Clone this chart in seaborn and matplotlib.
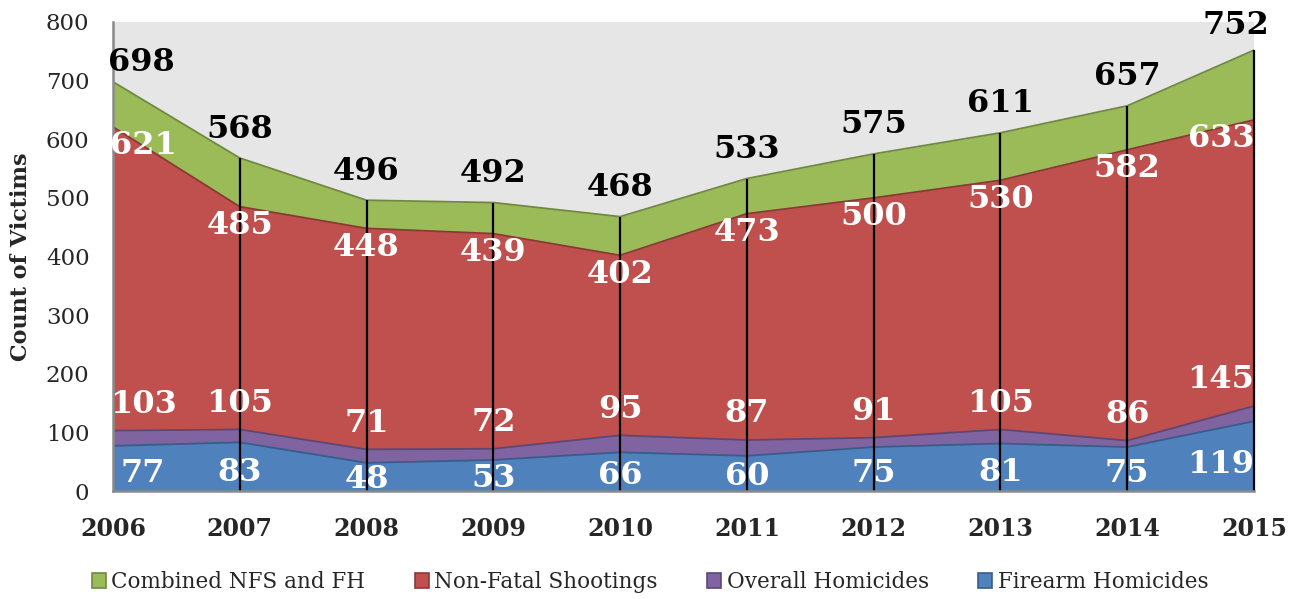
import matplotlib
matplotlib.use("Agg")
import matplotlib.pyplot as plt
import seaborn as sns
import pandas as pd
from matplotlib.patches import Patch

# ---- data ----
years = [2006, 2007, 2008, 2009, 2010, 2011, 2012, 2013, 2014, 2015]
combined = [698, 568, 496, 492, 468, 533, 575, 611, 657, 752]
nonfatal = [621, 485, 448, 439, 402, 473, 500, 530, 582, 633]
overall = [103, 105, 71, 72, 95, 87, 91, 105, 86, 145]
firearm = [77, 83, 48, 53, 66, 60, 75, 81, 75, 119]
series_names = ["Combined NFS and FH", "Non-Fatal Shootings",
                "Overall Homicides", "Firearm Homicides"]

sns.set_theme(style="white")
plt.rcParams['font.family'] = ['DejaVu Serif']

W, H = 1297, 599
fig = plt.figure(figsize=(W / 100, H / 100), dpi=100)
L, R, T, B = 113, 1254, 22, 491
ax = fig.add_axes([L / W, 1 - B / H, (R - L) / W, (B - T) / H])
ax.set_facecolor('#E6E6E6')

df = pd.DataFrame({"Year": years, series_names[0]: combined,
                   series_names[1]: nonfatal, series_names[2]: overall,
                   series_names[3]: firearm})

styles = {
    series_names[0]: ('#9BBB59', '#71893F'),
    series_names[1]: ('#C0504D', '#8C3836'),
    series_names[2]: ('#8064A2', '#5C4776'),
    series_names[3]: ('#4F81BD', '#385D8A'),
}

for i, name in enumerate(series_names):
    fc, ec = styles[name]
    ax.fill_between(df["Year"], 0, df[name], color=fc, lw=0, zorder=2 + i)
    sns.lineplot(data=df, x="Year", y=name, color=ec, lw=1.3, ax=ax,
                 zorder=2.5 + i)

# drop lines
ax.vlines(years[1:], 0, combined[1:], color='black', lw=1.6, zorder=8,
          clip_on=False)

ax.set_xlim(2006, 2015)
ax.set_ylim(0, 800)
ax.set_yticks(range(0, 801, 100))
ax.set_xticks(years)
ax.set_xticklabels([str(y) for y in years], fontsize=17, fontweight='bold')
ax.tick_params(axis='x', length=0, pad=19)
ax.tick_params(axis='y', length=0, pad=17, labelsize=16.5)
ax.set_xlabel("")
ax.set_ylabel("Count of Victims", fontsize=16, fontweight='bold')
ax.yaxis.set_label_coords((32 - L) / (R - L), 0.5)

for s in ['top', 'right']:
    ax.spines[s].set_visible(False)
for s in ['left', 'bottom']:
    ax.spines[s].set_color('#8A8A8A')
    ax.spines[s].set_linewidth(1.8)
    ax.spines[s].set_zorder(9)

px = 0.72  # points per pixel


def xshift(i, first=30, last=-33):
    if i == 0:
        return first
    if i == len(years) - 1:
        return last
    return 0


lab_kw = dict(textcoords='offset points', ha='center', va='center',
              fontsize=23, fontweight='bold', zorder=10, annotation_clip=False)

n = len(years)
for i, (x, v) in enumerate(zip(years, combined)):
    dy = 19 if i == 0 else (25 if i == n - 1 else 29)
    ax.annotate(str(v), (x, v), xytext=(xshift(i, 28, -18) * px, dy * px),
                color='black', **lab_kw)
for i, (x, v) in enumerate(zip(years, nonfatal)):
    ax.annotate(str(v), (x, v), xytext=(xshift(i) * px, -19 * px),
                color='white', **lab_kw)
for i, (x, v) in enumerate(zip(years, overall)):
    ax.annotate(str(v), (x, v), xytext=(xshift(i) * px, 26 * px),
                color='white', **lab_kw)
for i, (x, v) in enumerate(zip(years, firearm)):
    ax.annotate(str(v), (x, 0.35 * v + 3), xytext=(xshift(i) * px, 0),
                color='white', **lab_kw)

handles = [Patch(facecolor=styles[n_][0], edgecolor=styles[n_][1], lw=1.2,
                 label=n_) for n_ in series_names]
fig.legend(handles=handles, loc='center', bbox_to_anchor=(650 / W, 1 - 582 / H),
           ncol=4, frameon=False, fontsize=15.5, handlelength=0.65,
           handleheight=0.65, handletextpad=0.25, columnspacing=2.3)

fig.savefig("out.png", dpi=100)
